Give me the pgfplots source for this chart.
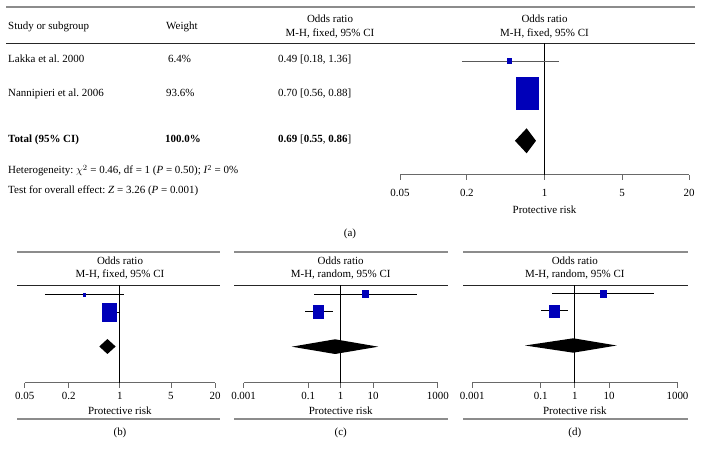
\documentclass[border=0pt]{standalone}
\usepackage{pgfplots}
\pgfplotsset{compat=1.18}
\usepackage{fontspec}
\setmainfont{Liberation Serif}
\frenchspacing
\definecolor{fblue}{RGB}{0,0,185}
\definecolor{rulegray}{RGB}{140,140,140}
\definecolor{axgray}{RGB}{105,105,105}
\newcommand\f{\fontsize{11}{13}\selectfont}
\pgfplotsset{myforestplot/.style={
  scale only axis, enlargelimits=false, clip=false,
  axis x line*=bottom, axis y line=none,
  x axis line style={axgray, line width=1bp},
  major tick length=5bp, tick align=outside,
  tick style={axgray, line width=0.9bp},
  minor xtick={},
  xticklabel style={font=\f, anchor=base, inner sep=0pt},
  xlabel={Protective risk},
}}
\begin{document}
\begin{tikzpicture}
\begin{scope}[x=1bp,y=1bp]
\useasboundingbox (0,0) rectangle (703,456);
% ---------- panel (a) table ----------
\draw[rulegray, line width=1.6bp] (6,449) -- (695,449);
\draw[black!85, line width=0.9bp] (6,412.7) -- (695,412.7);
\begin{scope}[every node/.style={inner sep=0pt, font=\f}]
\node[anchor=base west] at (8,426.5) {Study or subgroup};
\node[anchor=base west] at (166,426.5) {Weight};
\node[anchor=base] at (330,433) {Odds ratio};
\node[anchor=base] at (330,419) {M-H, fixed, 95\% CI};
\node[anchor=base] at (544.5,433) {Odds ratio};
\node[anchor=base] at (544.5,419) {M-H, fixed, 95\% CI};
\node[anchor=base west] at (8,393) {Lakka et al. 2000};
\node[anchor=base west] at (168,393) {6.4\%};
\node[anchor=base west] at (278,393) {0.49 [0.18, 1.36]};
\node[anchor=base west] at (8,359.5) {Nannipieri et al. 2006};
\node[anchor=base west] at (166,359.5) {93.6\%};
\node[anchor=base west] at (278,359.5) {0.70 [0.56, 0.88]};
\node[anchor=base west] at (8,313) {\textbf{Total (95\% CI)}};
\node[anchor=base west] at (165,313) {\textbf{100.0\%}};
\node[anchor=base west] at (278,313) {\textbf{0.69} [\textbf{0.55}, \textbf{0.86}]};
\node[anchor=base west] at (8,282) {Heterogeneity: $\chi^{2}$ = 0.46, df = 1 (\textit{P} = 0.50); \textit{I}\textsuperscript{2} = 0\%};
\node[anchor=base west] at (8,262.5) {Test for overall effect: \textit{Z} = 3.26 (\textit{P} = 0.001)};
\node[anchor=base] at (350,219) {(a)};
\foreach \cx/\xa/\xb/\mth/\lab in {120/17/219.5/fixed/b, 340.7/234/448.3/random/c, 574.8/463/688/random/d}{
  \draw[rulegray, line width=1.4bp] (\xa,204) -- (\xb,204);
  \draw[black!85, line width=0.9bp] (\xa,171) -- (\xb,171);
  \draw[rulegray, line width=1.4bp] (\xa,37) -- (\xb,37);
  \node[anchor=base] at (\cx,191.8) {Odds ratio};
  \node[anchor=base] at (\cx,178.2) {M-H, \mth, 95\% CI};
  \node[anchor=base] at (\cx,20.5) {(\lab)};
}
\end{scope}
\end{scope}

% ---------- panel (a) forest ----------
\begin{axis}[xmode=log, myforestplot, at={(400bp,281.3bp)}, anchor=south west,
  width=289bp, height=131.4bp, xmin=0.05, xmax=20, ymin=281.3, ymax=412.7,
  xtick={0.05,0.2,1,5,20},
  xticklabels={\textrm{0.05},\textrm{0.2},\textrm{1},\textrm{5},\textrm{20}},
  xticklabel style={yshift=-16.5bp},
  xlabel style={at={(axis description cs:0.5,0)}, anchor=base, inner sep=0pt, font=\f, yshift=-38.5bp}]
\addplot[black, line width=0.8bp] coordinates {(1,281.3) (1,412.7)};
\addplot[black!65, line width=0.9bp] coordinates {(0.18,395) (1.36,395)};
\addplot[fill=fblue, draw=none] coordinates {(0.462,392.2) (0.507,392.2) (0.507,397.6) (0.462,397.6)} -- cycle;
\addplot[fill=fblue, draw=none] coordinates {(0.554,379.3) (0.887,379.3) (0.887,346) (0.554,346)} -- cycle;
\addplot[fill=black, draw=none] coordinates {(0.542,315.2) (0.69,327.7) (0.838,315.2) (0.69,302.7)} -- cycle;
\end{axis}

% ---------- panel (b) ----------
\begin{axis}[xmode=log, myforestplot, at={(24.7bp,73.3bp)}, anchor=south west,
  width=190.3bp, height=97.7bp, xmin=0.05, xmax=20, ymin=73.3, ymax=171,
  xtick={0.05,0.2,1,5,20},
  xticklabels={\textrm{0.05},\textrm{0.2},\textrm{1},\textrm{5},\textrm{20}},
  xticklabel style={yshift=-11.5bp},
  xlabel style={at={(axis description cs:0.5,0)}, anchor=base, inner sep=0pt, font=\f, yshift=-32bp}]
\addplot[black, line width=0.8bp] coordinates {(1,73.3) (1,171)};
\addplot[black, line width=0.9bp] coordinates {(0.0944,161.5) (1.14,161.5)};
\addplot[fill=fblue, draw=none] coordinates {(0.31,159) (0.34,159) (0.34,162.6) (0.31,162.6)} -- cycle;
\addplot[black, line width=0.9bp] coordinates {(0.58,143.5) (0.98,143.5)};
\addplot[fill=fblue, draw=none] coordinates {(0.564,153) (0.921,153) (0.921,134) (0.564,134)} -- cycle;
\addplot[fill=black, draw=none] coordinates {(0.523,109.5) (0.676,117) (0.876,109.5) (0.676,102)} -- cycle;
\end{axis}

% ---------- panel (c) ----------
\begin{axis}[xmode=log, myforestplot, at={(243.6bp,73.3bp)}, anchor=south west,
  width=194.2bp, height=97.7bp, xmin=0.001, xmax=1000, ymin=73.3, ymax=171,
  xtick={0.001,0.1,1,10,1000},
  xticklabels={\textrm{0.001},\textrm{0.1},\textrm{1},\textrm{10},\textrm{1000}},
  xticklabel style={yshift=-11.5bp},
  xlabel style={at={(axis description cs:0.5,0)}, anchor=base, inner sep=0pt, font=\f, yshift=-32bp}]
\addplot[black, line width=0.8bp] coordinates {(1,73.3) (1,171)};
\addplot[black, line width=0.9bp] coordinates {(0.15,162) (233,162)};
\addplot[fill=fblue, draw=none] coordinates {(4.67,157.5) (7.5,157.5) (7.5,166) (4.67,166)} -- cycle;
\addplot[black, line width=0.9bp] coordinates {(0.081,144.5) (0.568,144.5)};
\addplot[fill=fblue, draw=none] coordinates {(0.143,150.7) (0.312,150.7) (0.312,137) (0.143,137)} -- cycle;
\addplot[fill=black, draw=none] coordinates {(0.0307,109.3) (0.67,116.7) (14.5,109.3) (0.67,102)} -- cycle;
\end{axis}

% ---------- panel (d) ----------
\begin{axis}[xmode=log, myforestplot, at={(472.2bp,73.3bp)}, anchor=south west,
  width=205.3bp, height=97.7bp, xmin=0.001, xmax=1000, ymin=73.3, ymax=171,
  xtick={0.001,0.1,1,10,1000},
  xticklabels={\textrm{0.001},\textrm{0.1},\textrm{1},\textrm{10},\textrm{1000}},
  xticklabel style={yshift=-11.5bp},
  xlabel style={at={(axis description cs:0.5,0)}, anchor=base, inner sep=0pt, font=\f, yshift=-32bp}]
\addplot[black, line width=0.8bp] coordinates {(1,73.3) (1,171)};
\addplot[black, line width=0.9bp] coordinates {(0.22,162.7) (209,162.7)};
\addplot[fill=fblue, draw=none] coordinates {(5.43,157.7) (8.52,157.7) (8.52,166) (5.43,166)} -- cycle;
\addplot[black, line width=0.9bp] coordinates {(0.103,145.3) (0.618,145.3)};
\addplot[fill=fblue, draw=none] coordinates {(0.176,151) (0.369,151) (0.369,137.7) (0.176,137.7)} -- cycle;
\addplot[fill=black, draw=none] coordinates {(0.035,110.5) (0.90,117.7) (16.7,110.5) (0.90,103.3)} -- cycle;
\end{axis}
\end{tikzpicture}
\end{document}
